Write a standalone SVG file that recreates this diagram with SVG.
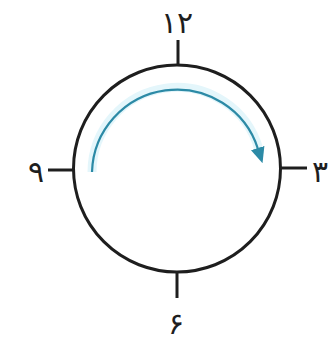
<svg xmlns="http://www.w3.org/2000/svg" width="330" height="340" viewBox="0 0 330 340">
<style>
.rim{fill:#fff;stroke:#1e1e1e;stroke-width:3}
.tick{stroke:#1e1e1e;stroke-width:3;fill:none}
.lbl{font-family:"DejaVu Sans",sans-serif;font-size:30px;fill:#1e1e1e;text-anchor:middle}
.arc{fill:none;stroke:#2c8aa6;stroke-width:2.2}
.glow{fill:none;stroke:#e4f6fb;stroke-width:9}
</style>
<defs>
<marker id="ah" markerUnits="userSpaceOnUse" viewBox="0 0 16 14" refX="1" refY="7" markerWidth="16" markerHeight="14" orient="auto">
<path d="M0,0 L16,7 L0,14 z" fill="#2c8aa6"/>
</marker>
</defs>
<rect width="330" height="340" fill="#fff"/>
<g id="clock">
<circle class="rim" cx="177" cy="168.5" r="103.5"/>
</g>
<g id="ticks">
<line class="tick" x1="178" y1="40" x2="178" y2="65"/>
<line class="tick" x1="177" y1="272" x2="177" y2="298"/>
<line class="tick" x1="48" y1="170" x2="74" y2="170"/>
<line class="tick" x1="280" y1="168" x2="307" y2="168"/>
</g>
<g id="labels">
<text class="lbl" x="177" y="33">۱۲</text>
<text class="lbl" x="36" y="182">۹</text>
<text class="lbl" x="320" y="182">۳</text>
<text class="lbl" x="176" y="334">۶</text>
</g>
<g id="connectors">
<path class="glow" d="M92,172 A85,85 0 0 1 259,150"/>
<path class="arc" d="M92,172 A85,85 0 0 1 258,149" marker-end="url(#ah)"/>
</g>
</svg>
